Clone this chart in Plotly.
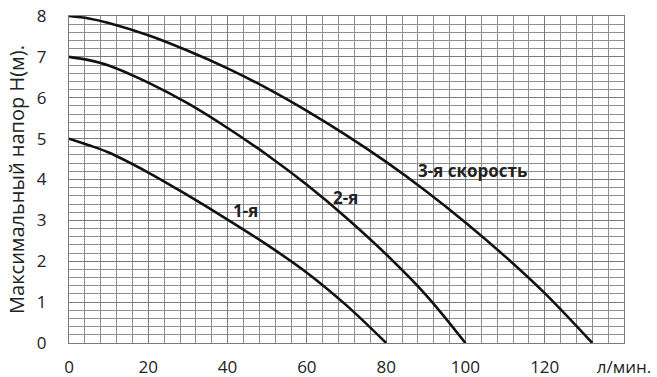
import plotly.graph_objects as go

# Pump head curves: flow (л/мин.) vs maximum head H (м) for three speeds
flow_1 = [0, 5, 10, 20, 30, 40, 50, 60, 70, 80]
head_1 = [5.0, 4.84, 4.66, 4.17, 3.61, 3.02, 2.40, 1.72, 0.92, 0.0]

flow_2 = [0, 5, 10, 20, 30, 40, 50, 60, 70, 80, 90, 100]
head_2 = [7.0, 6.92, 6.79, 6.37, 5.86, 5.26, 4.6, 3.87, 3.06, 2.17, 1.18, 0.0]

flow_3 = [0, 5, 10, 20, 30, 40, 50, 60, 70, 80, 90, 100, 110, 120, 132]
head_3 = [8.0, 7.94, 7.83, 7.53, 7.15, 6.72, 6.23, 5.68, 5.08, 4.43, 3.72, 2.95, 2.12, 1.22, 0.0]

x_tickvals = [0, 20, 40, 60, 80, 100, 120, 140]
x_ticktext = ["0", "20", "40", "60", "80", "100", "120", "л/мин."]
y_tickvals = [0, 1, 2, 3, 4, 5, 6, 7, 8]

labels = ["1-я", "2-я", "3-я скорость"]
label_x = [44.5, 69.8, 101.8]
label_y = [3.25, 3.57, 4.22]

fig = go.Figure()
for fx, hy in [(flow_1, head_1), (flow_2, head_2), (flow_3, head_3)]:
    fig.add_trace(go.Scatter(
        x=fx, y=hy, mode="lines",
        line=dict(color="#111111", width=2.6, shape="spline", smoothing=1.0),
        showlegend=False, hoverinfo="skip",
    ))

for text, lx, ly in zip(labels, label_x, label_y):
    fig.add_annotation(
        x=lx, y=ly, text=f"<b>{text}</b>", showarrow=False,
        font=dict(family="Open Sans", size=17, color="#222222"),
    )

grid_major = "#7a7a7a"
grid_minor = "#8f8f8f"

fig.update_layout(
    width=657, height=377,
    margin=dict(l=69, r=33, t=16, b=34),
    paper_bgcolor="white", plot_bgcolor="white",
    font=dict(family="Open Sans", size=17, color="#222222"),
    xaxis=dict(
        range=[0, 140], tickvals=x_tickvals, ticktext=x_ticktext,
        showgrid=True, gridcolor=grid_major, gridwidth=1.3,
        minor=dict(dtick=4, showgrid=True, gridcolor=grid_minor, gridwidth=1),
        zeroline=False, showline=True, linecolor=grid_major, linewidth=1.3, mirror=True,
        ticks="", ticklabelstandoff=8, tickfont=dict(size=17), automargin=False,
    ),
    yaxis=dict(
        range=[0, 8], tickvals=y_tickvals,
        showgrid=True, gridcolor=grid_major, gridwidth=1.3,
        minor=dict(dtick=0.2, showgrid=True, gridcolor=grid_minor, gridwidth=1),
        zeroline=False, showline=True, linecolor=grid_major, linewidth=1.3, mirror=True,
        ticks="", ticklabelstandoff=18, tickfont=dict(size=17), automargin=False,
        title=dict(text="Максимальный напор H(м).", font=dict(size=20), standoff=6),
    ),
)

fig.write_html("out.html")
